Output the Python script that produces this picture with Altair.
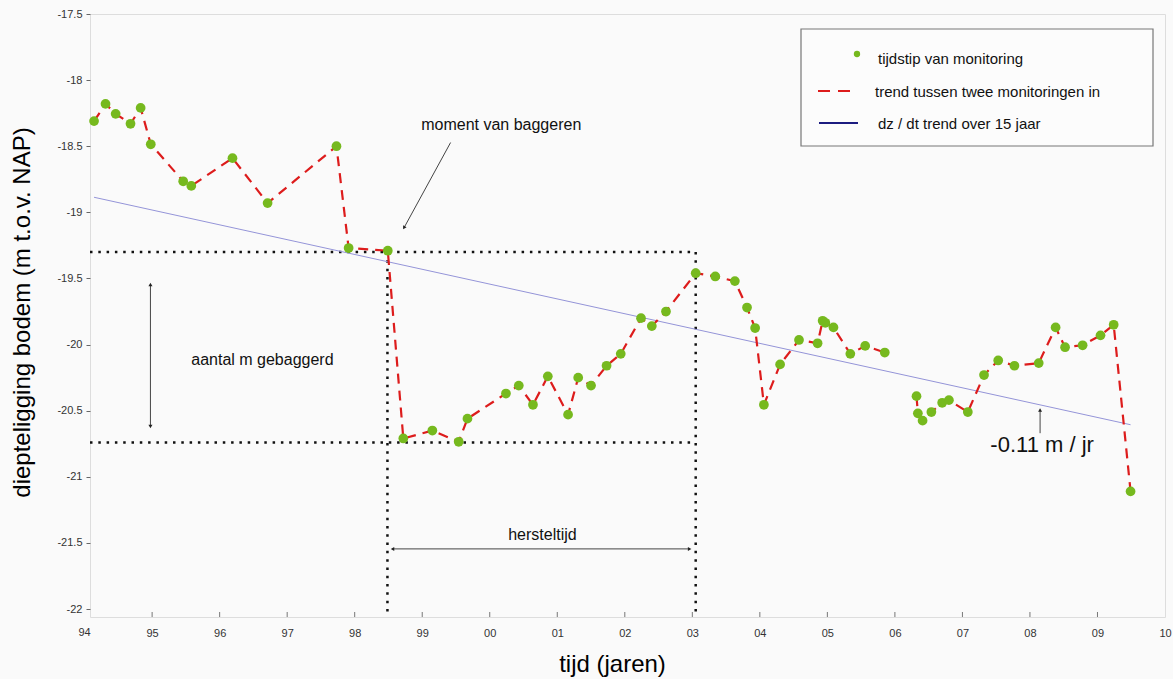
import altair as alt
import pandas as pd

FONT = "Liberation Sans"

# ---------------- data ----------------
years = [94.14, 94.31, 94.46, 94.68, 94.83, 94.98, 95.46, 95.58, 96.19, 96.71,
         97.73, 97.91, 98.49, 98.72, 99.15, 99.54, 99.67, 100.24, 100.43, 100.64,
         100.86, 101.16, 101.31, 101.50, 101.73, 101.94, 102.24, 102.40, 102.61, 103.05,
         103.34, 103.63, 103.81, 103.93, 104.06, 104.30, 104.58, 104.855, 104.93, 104.97,
         105.09, 105.34, 105.56, 105.85, 106.32, 106.34, 106.41, 106.54, 106.70, 106.80,
         107.08, 107.32, 107.53, 107.77, 108.13, 108.38, 108.52, 108.78, 109.045, 109.24,
         109.49]
depths = [-18.31, -18.18, -18.255, -18.33, -18.21, -18.485, -18.765, -18.80, -18.59, -18.93,
          -18.50, -19.27, -19.29, -20.71, -20.65, -20.735, -20.56, -20.37, -20.31, -20.455,
          -20.24, -20.53, -20.25, -20.31, -20.16, -20.07, -19.80, -19.86, -19.75, -19.46,
          -19.485, -19.52, -19.72, -19.875, -20.455, -20.15, -19.965, -19.99, -19.82, -19.835,
          -19.87, -20.07, -20.01, -20.06, -20.39, -20.52, -20.575, -20.51, -20.44, -20.42,
          -20.51, -20.23, -20.12, -20.16, -20.14, -19.87, -20.02, -20.005, -19.93, -19.85,
          -21.11]
gap_after_year = 105.85          # no monitoring line drawn across this gap

trend_years = [94.14, 109.49]
trend_depths = [-18.886, -20.606]

x_ticks = list(range(95, 111))
y_ticks = [-22, -21.5, -21, -20.5, -20, -19.5, -19, -18.5, -18, -17.5]

dredge_year = 98.485
recover_year = 103.05
depth_before = -19.30
depth_after = -20.74

legend_labels = ["tijdstip van monitoring",
                 "trend tussen twee monitoringen in",
                 "dz / dt trend over 15 jaar"]

# ---------------- layout ----------------
W, H = 1075, 603
X_DOM = [94.08, 110]
Y_DOM = [-22.06, -17.5]

GREEN = "#76b91e"
RED = "#dd1c1c"

xs = alt.Scale(domain=X_DOM, nice=False, zero=False)
ys = alt.Scale(domain=Y_DOM, nice=False, zero=False)

x_axis = alt.Axis(
    values=x_ticks,
    labelExpr="datum.value < 100 ? '' + datum.value : (datum.value < 110 ? '0' + (datum.value - 100) : '' + (datum.value - 100))",
    ticks=False, domain=False, grid=False, labelFlush=False,
    labelPadding=10, labelFontSize=11, labelColor="#333", labelFont=FONT,
    title="tijd (jaren)", titleFontSize=24, titleFontWeight="normal", titleFont=FONT,
    titleColor="#000", titleX=522, titleY=54, titleBaseline="alphabetic", titleAlign="center",
)
y_axis = alt.Axis(
    values=y_ticks, labelExpr="'' + datum.value",
    tickSize=4, tickColor="#666", tickWidth=1, domain=False, grid=False, labelFlush=False,
    labelPadding=4, labelFontSize=11, labelColor="#333", labelFont=FONT,
    title="diepteligging bodem (m t.o.v. NAP)", titleFontSize=24, titleFontWeight="normal",
    titleFont=FONT, titleColor="#000", titleX=-68, titleY=298, titleBaseline="middle",
    titleAlign="center", titleAngle=270,
)


def X(f="x"):
    return alt.X(f"{f}:Q", scale=xs, axis=x_axis)


def Y(f="y"):
    return alt.Y(f"{f}:Q", scale=ys, axis=y_axis)


one = pd.DataFrame({"a": [0]})

# monitoring data
seg = [0 if yr <= gap_after_year else 1 for yr in years]
mon = pd.DataFrame({"x": years, "y": depths, "seg": seg})
trend = pd.DataFrame({"x": trend_years, "y": trend_depths})

# dotted reference box lines
box = pd.DataFrame({
    "x": [X_DOM[0], X_DOM[0], dredge_year, recover_year],
    "x2": [recover_year, recover_year, dredge_year, recover_year],
    "y": [depth_before, depth_after, depth_before, depth_before],
    "y2": [depth_before, depth_after, Y_DOM[0], Y_DOM[0]],
})
dotted = alt.Chart(box).mark_rule(strokeDash=[2.5, 5.8], strokeWidth=2.5, color="#111").encode(
    x=X(), x2="x2:Q", y=Y(), y2="y2:Q")

trend_line = alt.Chart(trend).mark_line(color="#9494d8", strokeWidth=1).encode(x=X(), y=Y())

red_line = alt.Chart(mon).mark_line(color=RED, strokeWidth=2.2, strokeDash=[10, 7]).encode(
    x=X(), y=Y(), detail="seg:N")

points = alt.Chart(mon).mark_circle(size=95, color=GREEN, opacity=1).encode(x=X(), y=Y())

# inside x ticks
xt = pd.DataFrame({"x": x_ticks[:-1]})
x_tick_marks = alt.Chart(xt).mark_rule(color="#777", strokeWidth=1).encode(
    x=X(), y=alt.value(H), y2=alt.value(H - 5))
label94 = alt.Chart(pd.DataFrame({"x": [94], "t": ["94"]})).mark_text(
    fontSize=11, font=FONT, color="#333", baseline="top").encode(
    x=X(), y=alt.value(H + 10), text="t:N")

# annotations
ann = pd.DataFrame({
    "x": [100.17, 96.633, 100.78],
    "y": [-18.34, -20.119, -21.44],
    "t": ["moment van baggeren", "aantal m gebaggerd", "hersteltijd"],
})
ann_text = alt.Chart(ann).mark_text(fontSize=16, font=FONT, color="#111").encode(
    x=X(), y=Y(), text="t:N")
rate_text = alt.Chart(pd.DataFrame({"x": [108.18], "y": [-20.758], "t": ["-0.11 m / jr"]})).mark_text(
    fontSize=22, font=FONT, color="#111").encode(x=X(), y=Y(), text="t:N")

arrows = pd.DataFrame({
    "x": [99.42, 94.975, 98.56, 108.15],
    "x2": [98.73, 94.975, 102.96, 108.15],
    "y": [-18.472, -19.545, -21.545, -20.67],
    "y2": [-19.117, -20.62, -21.545, -20.50],
})
arrow_lines = alt.Chart(arrows).mark_rule(color="#444", strokeWidth=1).encode(
    x=X(), x2="x2:Q", y=Y(), y2="y2:Q")

heads = pd.DataFrame({
    "x": [98.73, 94.975, 94.975, 98.56, 102.96, 108.15],
    "y": [-19.117, -19.545, -20.62, -21.545, -21.545, -20.495],
    "ang": [209, 0, 180, 270, 90, 0],
})
arrow_heads = alt.Chart(heads).mark_point(shape="triangle-up", filled=True, size=16,
                                          color="#222", opacity=1).encode(
    x=X(), y=Y(), angle=alt.Angle("ang:Q", scale=None))

# legend (drawn by hand inside the plot)
leg_box = alt.Chart(one).mark_rect(fill="#fcfcfc", stroke="#777", strokeWidth=1.2).encode(
    x=alt.value(711), x2=alt.value(1063), y=alt.value(15), y2=alt.value(132))
leg_dot = alt.Chart(one).mark_circle(size=40, color=GREEN, opacity=1).encode(
    x=alt.value(767), y=alt.value(40))
leg_red = alt.Chart(one).mark_rule(color=RED, strokeWidth=2.2, strokeDash=[12, 8]).encode(
    x=alt.value(728), x2=alt.value(768), y=alt.value(77))
leg_blue = alt.Chart(one).mark_rule(color="#1c1c80", strokeWidth=2).encode(
    x=alt.value(729), x2=alt.value(768), y=alt.value(109))
leg_texts = []
for lab, lx, ly in zip(legend_labels, [788, 785, 788], [45, 78, 110]):
    leg_texts.append(
        alt.Chart(one).mark_text(fontSize=15, font=FONT, color="#111", align="left",
                                 baseline="middle", text=lab).encode(
            x=alt.value(lx), y=alt.value(ly)))

chart = alt.layer(
    dotted, trend_line, red_line, points, x_tick_marks, label94,
    ann_text, rate_text, arrow_lines, arrow_heads,
    leg_box, leg_dot, leg_red, leg_blue, *leg_texts,
).properties(
    width=W, height=H,
    autosize=alt.AutoSizeParams(type="none"),
    padding={"left": 90, "top": 14, "right": 8, "bottom": 62},
    background="#fafafa",
).configure_view(
    stroke="#777", strokeWidth=1.5, fill="#fcfcfc"
).configure(font=FONT)

chart.save("out.html", embed_options={"renderer": "svg", "actions": False})
